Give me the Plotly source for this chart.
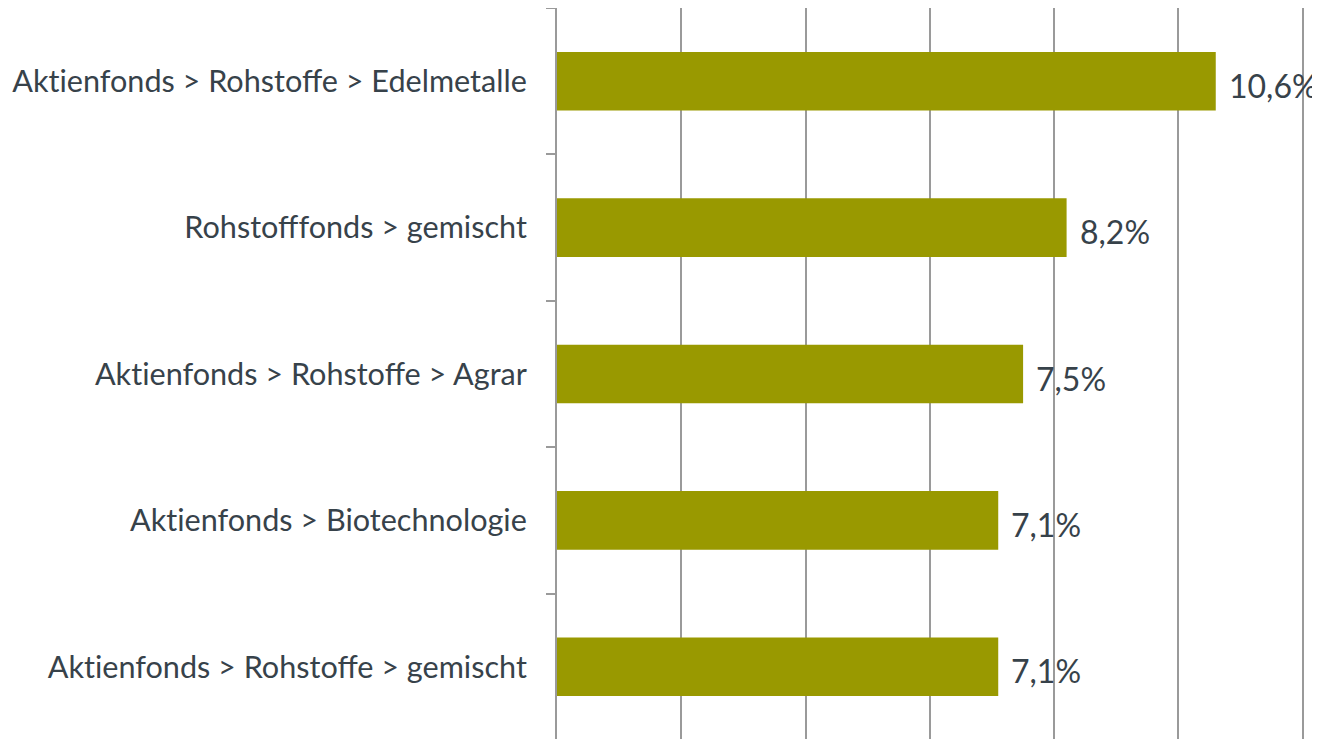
import plotly.graph_objects as go

categories = [
    "Aktienfonds > Rohstoffe > Edelmetalle",
    "Rohstofffonds > gemischt",
    "Aktienfonds > Rohstoffe > Agrar",
    "Aktienfonds > Biotechnologie",
    "Aktienfonds > Rohstoffe > gemischt",
]
values = [10.6, 8.2, 7.5, 7.1, 7.1]
labels = ["10,6%", "8,2%", "7,5%", "7,1%", "7,1%"]

TEXT = "#37424a"
GRID = "#9a9a9a"
FONT = "Lato"

# break the "ti" ligature of Lato with a zero-width non-joiner
ticktext = [c.replace("ti", "t\u200ci") for c in categories]

fig = go.Figure()
fig.add_trace(go.Bar(
    y=categories, x=values, orientation="h",
    marker=dict(color="#999900", line=dict(width=0)),
    hoverinfo="skip",
))
for c, v, t in zip(categories, values, labels):
    fig.add_annotation(x=v, y=c, text=t, showarrow=False, xanchor="left",
                       xshift=11, yshift=-4,
                       font=dict(family=FONT, size=32, color=TEXT))

fig.update_layout(
    width=1320, height=739,
    margin=dict(l=549, r=24, t=0, b=7, pad=0),
    paper_bgcolor="white", plot_bgcolor="white",
    bargap=0.6, showlegend=False,
    font=dict(family=FONT, size=30.6, color=TEXT),
)
fig.update_xaxes(range=[0, 12.02], tickmode="array", tickvals=[0, 2, 4, 6, 8, 10, 12],
                 showticklabels=False,
                 showgrid=True, gridcolor=GRID, gridwidth=2,
                 zeroline=False, showline=False)
fig.update_yaxes(autorange="reversed", tickson="boundaries",
                 tickmode="array", tickvals=categories, ticktext=ticktext,
                 ticks="outside", ticklen=9, tickcolor=GRID, tickwidth=2,
                 showline=True, linecolor=GRID, linewidth=2,
                 showgrid=False, ticklabelstandoff=22,
                 tickfont=dict(family=FONT, size=30.6, color=TEXT))
fig.write_html("out.html")
